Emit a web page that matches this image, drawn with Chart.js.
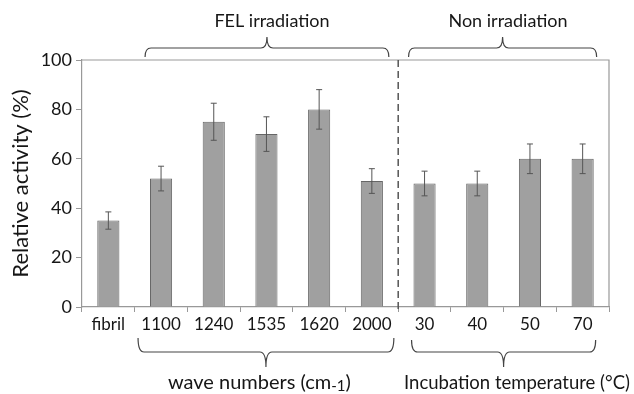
<!DOCTYPE html>
<html>
<head>
<meta charset="utf-8">
<script src="https://cdn.jsdelivr.net/npm/chart.js@4"></script>
<style>
  html, body { margin: 0; padding: 0; background: #fff; }
  #wrap { width: 634px; height: 394px; }
</style>
</head>
<body>
<div id="wrap"><canvas id="chartActivite" width="634" height="394"></canvas></div>
<script>
// Données
const categories = ['fibril', '1100', '1240', '1535', '1620', '2000', '30', '40', '50', '70'];
const activity = [35, 52, 75, 70, 80, 51, 50, 50, 60, 60];
const errors = [3.5, 5, 7.5, 7, 8, 5, 5, 5, 6, 6];
const yTicks = [0, 20, 40, 60, 80, 100];

const FONT = 'Lato, "Open Sans", sans-serif';
const TEXT = '#161616';

// Accolade horizontale ; dir = -1 pointe vers le haut, 1 vers le bas
function drawBrace(ctx, x1, x2, yLine, endH, tipH, dir) {
    const xm = (x1 + x2) / 2;
    const r = 6;
    ctx.beginPath();
    ctx.moveTo(x1, yLine - dir * endH);
    ctx.quadraticCurveTo(x1, yLine, x1 + r, yLine);
    ctx.lineTo(xm - r, yLine);
    ctx.quadraticCurveTo(xm, yLine, xm, yLine + dir * tipH);
    ctx.quadraticCurveTo(xm, yLine, xm + r, yLine);
    ctx.lineTo(x2 - r, yLine);
    ctx.quadraticCurveTo(x2, yLine, x2, yLine - dir * endH);
    ctx.stroke();
}

const decorations = {
    id: 'decorations',
    afterDatasetsDraw(chart) {
        const ctx = chart.ctx;
        const x = chart.scales.x;
        const y = chart.scales.y;
        const area = chart.chartArea;
        ctx.save();

        // Barres d'erreur
        ctx.strokeStyle = '#555';
        ctx.lineWidth = 1;
        activity.forEach(function(v, i) {
            const px = x.getPixelForValue(i);
            const top = y.getPixelForValue(v + errors[i]);
            const bot = y.getPixelForValue(v - errors[i]);
            ctx.beginPath();
            ctx.moveTo(px, top); ctx.lineTo(px, bot);
            ctx.moveTo(px - 3, top); ctx.lineTo(px + 3, top);
            ctx.moveTo(px - 3, bot); ctx.lineTo(px + 3, bot);
            ctx.stroke();
        });

        // Cadre haut et droit
        ctx.strokeStyle = '#999';
        ctx.lineWidth = 1.2;
        ctx.beginPath();
        ctx.moveTo(area.left, area.top);
        ctx.lineTo(area.right, area.top);
        ctx.lineTo(area.right, area.bottom);
        ctx.stroke();

        // Ligne pointillée de séparation
        const xs = (x.getPixelForValue(5) + x.getPixelForValue(6)) / 2;
        ctx.strokeStyle = '#555';
        ctx.lineWidth = 1.5;
        ctx.setLineDash([7, 4]);
        ctx.beginPath();
        ctx.moveTo(xs, area.top);
        ctx.lineTo(xs, area.bottom + 4);
        ctx.stroke();
        ctx.setLineDash([]);

        // Accolades
        ctx.strokeStyle = '#444';
        ctx.lineWidth = 1.2;
        drawBrace(ctx, x.getPixelForValue(1) - 16, x.getPixelForValue(5) + 17, area.top - 12, 9, 11, -1);
        drawBrace(ctx, x.getPixelForValue(6) - 16, x.getPixelForValue(9) + 14, area.top - 12, 9, 11, -1);
        drawBrace(ctx, x.getPixelForValue(1) - 23, x.getPixelForValue(5) + 22, area.bottom + 45, 14, 15, 1);
        drawBrace(ctx, x.getPixelForValue(6) - 13, x.getPixelForValue(9) + 13, area.bottom + 45, 12, 15, 1);

        // Textes
        ctx.fillStyle = TEXT;
        ctx.textBaseline = 'middle';
        ctx.textAlign = 'center';
        ctx.font = '18px ' + FONT;
        ctx.fillText('FEL irradiation', 272, 21);
        ctx.fillText('Non irradiation', 508, 21);

        // wave numbers (cm-1) avec indice
        const yb = 383;
        ctx.textAlign = 'left';
        ctx.font = '20px ' + FONT;
        const part1 = 'wave numbers (cm';
        let cx = 168;
        ctx.fillText(part1, cx, yb);
        cx += ctx.measureText(part1).width;
        ctx.font = '15px ' + FONT;
        ctx.fillText('-1', cx, yb + 3);
        cx += ctx.measureText('-1').width;
        ctx.font = '20px ' + FONT;
        ctx.fillText(')', cx, yb);

        ctx.font = '18.5px ' + FONT;
        ctx.textAlign = 'center';
        ctx.fillText('Incubation temperature (°C)', 517, yb);

        ctx.restore();
    }
};

document.addEventListener('DOMContentLoaded', function() {
    const ctx = document.getElementById('chartActivite').getContext('2d');
    new Chart(ctx, {
        type: 'bar',
        data: {
            labels: categories,
            datasets: [{
                label: 'Relative activity',
                data: activity,
                backgroundColor: '#a0a0a0',
                borderColor: '#666',
                borderWidth: 1,
                barPercentage: 0.42,
                categoryPercentage: 1
            }]
        },
        options: {
            responsive: false,
            animation: false,
            layout: { padding: { top: 60, right: 25, left: 0, bottom: 0 } },
            plugins: {
                legend: { display: false },
                tooltip: { enabled: false }
            },
            scales: {
                x: {
                    afterFit: function(s) { s.height = 87; },
                    grid: {
                        drawOnChartArea: false,
                        tickLength: 5,
                        color: '#999'
                    },
                    border: { color: '#999', width: 1.2 },
                    ticks: {
                        color: TEXT,
                        font: { family: FONT, size: 17 },
                        padding: 2,
                        maxRotation: 0,
                        autoSkip: false
                    }
                },
                y: {
                    min: 0,
                    max: 100,
                    afterFit: function(s) { s.width = 82; },
                    afterBuildTicks: function(s) {
                        s.ticks = yTicks.map(function(v) { return { value: v }; });
                    },
                    grid: {
                        drawOnChartArea: false,
                        tickLength: 6,
                        color: '#999'
                    },
                    border: { color: '#999', width: 1.2 },
                    ticks: {
                        color: TEXT,
                        font: { family: FONT, size: 18 },
                        padding: 4
                    },
                    title: {
                        display: true,
                        text: 'Relative activity (%)',
                        color: TEXT,
                        font: { family: FONT, size: 22 },
                        padding: { top: 8, bottom: 0 }
                    }
                }
            }
        },
        plugins: [decorations]
    });
});
</script>
</body>
</html>
